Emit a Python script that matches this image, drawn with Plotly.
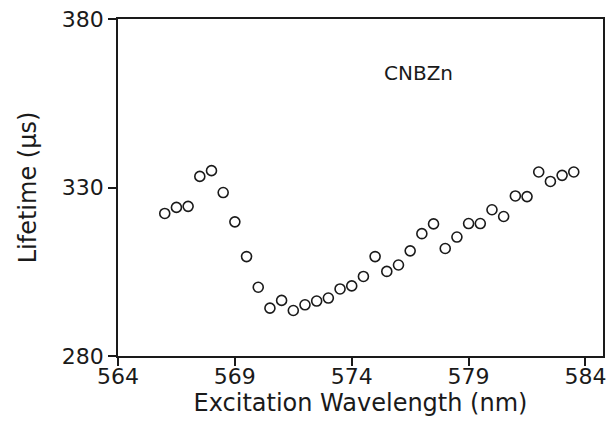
import plotly.graph_objects as go

wavelength = [566.0, 566.5, 567.0, 567.5, 568.0, 568.5, 569.0, 569.5, 570.0, 570.5,
              571.0, 571.5, 572.0, 572.5, 573.0, 573.5, 574.0, 574.5, 575.0, 575.5,
              576.0, 576.5, 577.0, 577.5, 578.0, 578.5, 579.0, 579.5, 580.0, 580.5,
              581.0, 581.5, 582.0, 582.5, 583.0, 583.5]
lifetime = [322.3, 324.1, 324.4, 333.3, 335.0, 328.5, 319.8, 309.5, 300.4, 294.2,
            296.5, 293.5, 295.2, 296.3, 297.2, 299.9, 300.8, 303.6, 309.5, 305.1,
            307.0, 311.2, 316.3, 319.2, 311.9, 315.3, 319.3, 319.3, 323.4, 321.4,
            327.5, 327.3, 334.6, 331.8, 333.6, 334.6]
x_ticks = [564, 569, 574, 579, 584]
y_ticks = [280, 330, 380]
sample_label = "CNBZn"

FONT = "DejaVu Sans"
INK = "#1a1a1a"

fig = go.Figure()
fig.add_trace(go.Scatter(
    x=wavelength, y=lifetime, mode="markers",
    marker=dict(symbol="circle-open", size=10, color=INK, line=dict(width=1.6, color=INK)),
    showlegend=False,
))

fig.add_annotation(x=576.85, y=364.1, text=sample_label, showarrow=False,
                   font=dict(family=FONT, size=20, color=INK), xanchor="center", yanchor="middle")

fig.update_xaxes(
    range=[564, 584.75], tickvals=x_ticks, ticktext=[str(v) for v in x_ticks],
    ticks="outside", ticklen=8, tickwidth=1.5, tickcolor=INK,
    showline=True, linecolor=INK, linewidth=1.5, mirror=True, showgrid=False, zeroline=False,
    tickfont=dict(family=FONT, size=22, color=INK), automargin=False, ticklabelstandoff=-8,
    ticklabeloverflow="allow",
    title=dict(text="Excitation Wavelength (nm)", font=dict(family=FONT, size=24, color=INK), standoff=4),
)
fig.update_yaxes(
    range=[280, 380], tickvals=y_ticks, ticktext=[str(v) for v in y_ticks],
    ticks="outside", ticklen=8, tickwidth=1.5, tickcolor=INK,
    showline=True, linecolor=INK, linewidth=1.5, mirror=True,
    showgrid=False, zeroline=False, automargin=False, ticklabeloverflow="allow",
    tickfont=dict(family=FONT, size=22, color=INK),
    title=dict(text="Lifetime (μs)", font=dict(family=FONT, size=24, color=INK), standoff=18),
)

fig.update_layout(
    width=608, height=442,
    margin=dict(l=118, r=5, t=19, b=86, autoexpand=False),
    paper_bgcolor="white", plot_bgcolor="white",
)

# remove the browser's default 8px body margin so the figure fills the window
fig.write_html("out.html", config={"displayModeBar": False},
               post_script="document.body.style.margin='0';document.body.style.overflow='hidden';")
